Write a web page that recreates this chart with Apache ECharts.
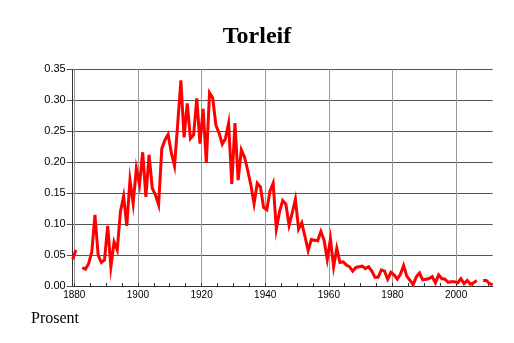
<!DOCTYPE html>
<html>
<head>
<meta charset="utf-8">
<script src="https://cdn.jsdelivr.net/npm/echarts@6/dist/echarts.min.js"></script>
<style>
html,body{margin:0;padding:0;background:#fff;}
#chart{width:514px;height:343px;}
</style>
</head>
<body>
<div id="chart"></div>
<script>
// ---- data ----
const titleText = 'Torleif';
const yAxisName = 'Prosent';
const startYear = 1880;
// share (percent) per year, 1880..2012 (null = no data)
const percentValues = [
  0.043, 0.058, null, 0.030, 0.027, 0.036, 0.055, 0.115, 0.050, 0.038,  // 1880-1889
  0.042, 0.097, 0.031, 0.071, 0.058, 0.120, 0.145, 0.097, 0.171, 0.133,  // 1890-1899
  0.190, 0.164, 0.216, 0.144, 0.212, 0.158, 0.147, 0.131, 0.222, 0.236,  // 1900-1909
  0.245, 0.215, 0.194, 0.262, 0.332, 0.240, 0.295, 0.238, 0.244, 0.303,  // 1910-1919
  0.230, 0.286, 0.199, 0.312, 0.304, 0.260, 0.247, 0.229, 0.238, 0.263,  // 1920-1929
  0.165, 0.263, 0.171, 0.220, 0.208, 0.187, 0.163, 0.133, 0.166, 0.160,  // 1930-1939
  0.127, 0.123, 0.153, 0.166, 0.092, 0.120, 0.138, 0.132, 0.098, 0.118,  // 1940-1949
  0.140, 0.092, 0.102, 0.080, 0.057, 0.075, 0.074, 0.073, 0.088, 0.074,  // 1950-1959
  0.043, 0.076, 0.031, 0.061, 0.038, 0.039, 0.034, 0.031, 0.024, 0.030,  // 1960-1969
  0.031, 0.032, 0.028, 0.031, 0.024, 0.014, 0.014, 0.026, 0.024, 0.011,  // 1970-1979
  0.022, 0.018, 0.011, 0.019, 0.033, 0.016, 0.009, 0.002, 0.015, 0.021,  // 1980-1989
  0.010, 0.011, 0.012, 0.015, 0.005, 0.018, 0.012, 0.011, 0.006, 0.007,  // 1990-1999
  0.007, 0.005, 0.012, 0.004, 0.009, 0.003, 0.005, 0.009, null, 0.009,   // 2000-2009
  0.009, 0.004, 0.002                                                    // 2010-2012
];
const years = percentValues.map((_, i) => startYear + i);
const xLabelYears = [1880, 1900, 1920, 1940, 1960, 1980, 2000];
const xTickYears = [1880,1885,1890,1895,1900,1905,1910,1915,1920,1925,1930,1935,1940,1945,1950,1955,1960,1965,1970,1975,1980,1985,1990,1995,2000,2005,2010];
const yMin = 0, yMax = 0.35, yStep = 0.05;

const seriesData = years.map((y, i) => [y, percentValues[i]]);

const chart = echarts.init(document.getElementById('chart'), null, {renderer: 'canvas'});
const labelFont = 'Liberation Sans, Arial, sans-serif';
chart.setOption({
  animation: false,
  backgroundColor: '#fff',
  title: [
    {text: titleText, left: 'center', top: 25, padding: 0,
     textStyle: {fontFamily: 'Liberation Serif, Times New Roman, serif', fontWeight: 'bold', fontSize: 24, color: '#000'}},
    {text: yAxisName, left: 31, top: 311, padding: 0,
     textStyle: {fontFamily: 'Liberation Serif, Times New Roman, serif', fontWeight: 'normal', fontSize: 16, color: '#000'}}
  ],
  grid: {left: 72.7, right: 21.3, top: 69.3, bottom: 57, containLabel: false},
  xAxis: [
    {type: 'value', min: 1880, max: 2012, show: false},
    {type: 'value', min: 1879.5, max: 2011.5, position: 'bottom',
     axisLine: {show: true, lineStyle: {color: '#333', width: 1}},
     axisTick: {show: true, inside: true, length: 3, customValues: xTickYears, lineStyle: {color: '#333'}},
     axisLabel: {customValues: xLabelYears, margin: 4, fontSize: 10, color: '#000', fontFamily: labelFont,
                 formatter: v => String(Math.round(v))},
     splitLine: {show: false}},
    {type: 'value', min: 1879.5, max: 2011.5, position: 'bottom',
     axisLine: {show: false},
     axisTick: {show: false, customValues: xLabelYears},
     axisLabel: {show: false, customValues: xLabelYears},
     splitLine: {show: true, lineStyle: {color: '#999', width: 1}}}
  ],
  yAxis: {
    type: 'value', min: yMin, max: yMax, interval: yStep,
    axisLine: {show: true, lineStyle: {color: '#333', width: 1}},
    axisTick: {show: true, inside: false, length: 6, lineStyle: {color: '#555'}},
    axisLabel: {margin: 7, fontSize: 11, color: '#000', fontFamily: labelFont, formatter: v => v.toFixed(2)},
    splitLine: {show: true, lineStyle: {color: '#555', width: 1}}
  },
  series: [{
    type: 'line',
    xAxisIndex: 0,
    data: seriesData,
    showSymbol: false,
    symbol: 'none',
    connectNulls: false,
    lineStyle: {color: '#ff0000', width: 3, join: 'miter'},
    z: 5
  }]
});
</script>
</body>
</html>
